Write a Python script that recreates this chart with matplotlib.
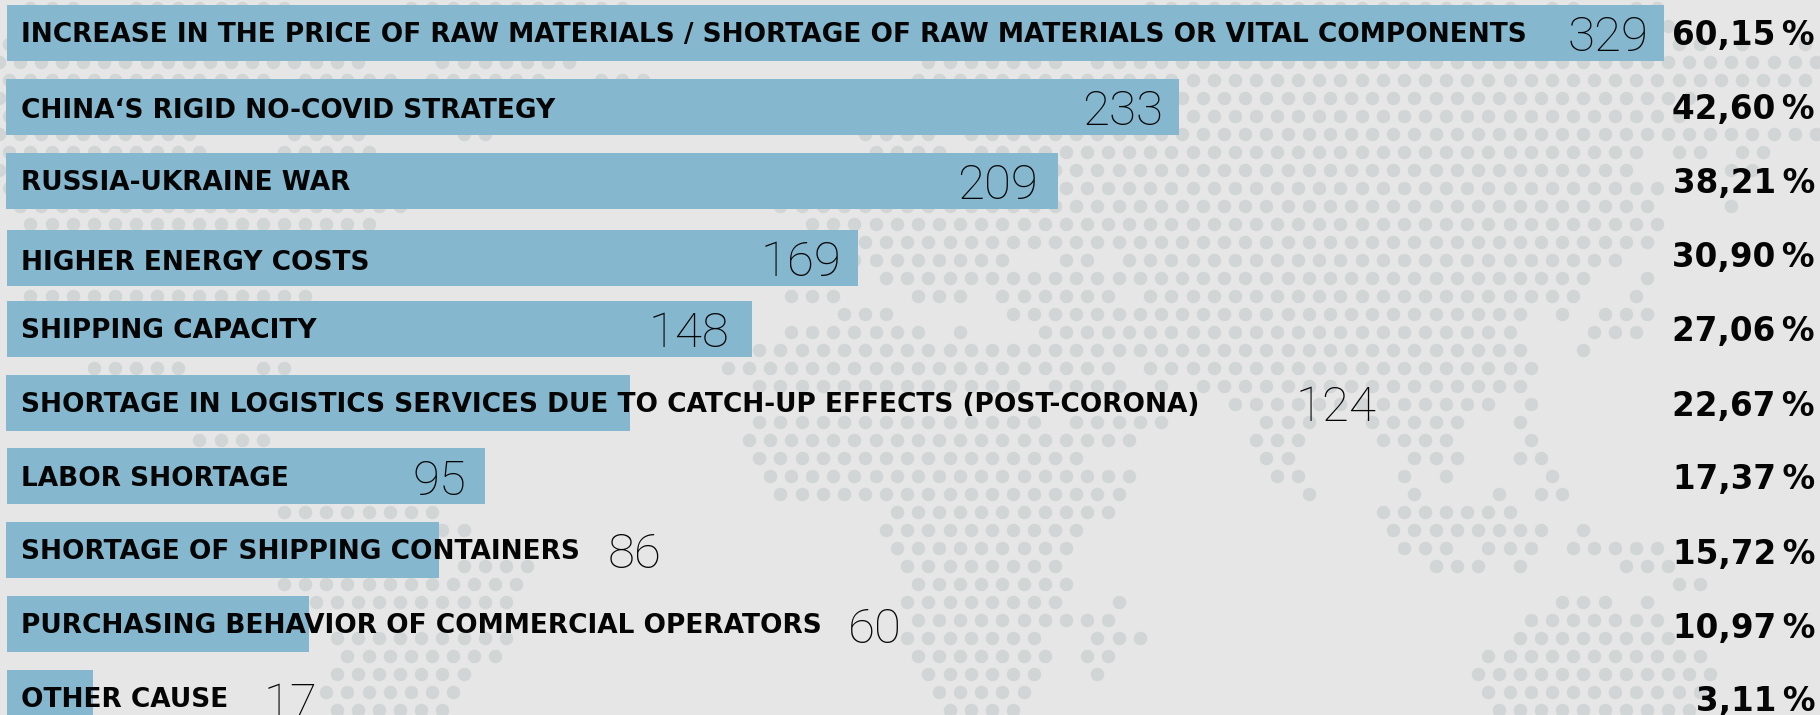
import numpy as np
import matplotlib
matplotlib.use("Agg")
import matplotlib.pyplot as plt

# ---- data ----
causes = ["INCREASE IN THE PRICE OF RAW MATERIALS / SHORTAGE OF RAW MATERIALS OR VITAL COMPONENTS",
          "CHINA‘S RIGID NO-COVID STRATEGY",
          "RUSSIA-UKRAINE WAR",
          "HIGHER ENERGY COSTS",
          "SHIPPING CAPACITY",
          "SHORTAGE IN LOGISTICS SERVICES DUE TO CATCH-UP EFFECTS (POST-CORONA)",
          "LABOR SHORTAGE",
          "SHORTAGE OF SHIPPING CONTAINERS",
          "PURCHASING BEHAVIOR OF COMMERCIAL OPERATORS",
          "OTHER CAUSE"]
counts = [329, 233, 209, 169, 148, 124, 95, 86, 60, 17]
shares = ["60,15", "42,60", "38,21", "30,90", "27,06", "22,67", "17,37", "15,72", "10,97", "3,11"]

# ---- layout (figure pixels) ----
W, H = 1820, 715
PX_PER_COUNT = 5.035
bar_left = [7, 6, 6, 7, 7, 6, 7, 6, 7, 7]
bar_top = [5, 79, 153, 230, 301, 375, 448, 522, 596, 670]
BAR_H = 56
label_y = [32, 108, 180, 260, 328, 402, 476, 549, 623, 697]
count_y = [33, 107, 181, 258, 329, 403, 477, 550, 625, 700]
share_y = [32, 106, 180, 254, 328, 403, 476, 551, 625, 698]
count_right = [1649, 1163, 1038, 841, 729, 1376, 466, 661, 902, 317]

# background dot map: per row, runs of (first x, last x), snapped to a staggered grid
dot_runs = [
    [(30, 72), (135, 282), (408, 619), (1152, 1510), (1552, 1573), (1635, 1657)],
    [(1667, 1667)],
    [(9, 9), (1677, 1698), (1739, 1739), (1815, 1815)],
    [(-1, 356), (440, 566), (931, 1057), (1100, 1815)],
    [(9, 261), (303, 388), (430, 535), (598, 639), (921, 1815)],
    [(-1, -1), (1179, 1688)],
    [(9, 9), (1179, 1677)],
    [(-1, 188), (293, 356), (461, 482), (868, 931), (973, 1815)],
    [(9, 198), (283, 367), (879, 942), (984, 1636), (1678, 1699), (1741, 1762)],
    [(-1, -1), (1057, 1625), (1731, 1752)],
    [(9, 9), (1068, 1657)],
    [(20, 398), (784, 1646), (1731, 1731)],
    [(30, 367), (816, 1657)],
    [(868, 1646)],
    [(858, 1005), (1068, 1089), (1131, 1615)],
    [(889, 1583), (1646, 1646)],
    [(30, 304), (795, 837), (921, 963), (1005, 1110), (1152, 1573), (1636, 1636)],
    [(847, 889), (1015, 1520), (1562, 1562), (1604, 1646)],
    [(795, 921), (963, 963), (1047, 1510), (1594, 1636)],
    [(763, 1520), (1583, 1583)],
    [(93, 177), (261, 282), (731, 1110), (1152, 1530)],
    [(763, 1015), (1057, 1120), (1162, 1162), (1204, 1520)],
    [(1236, 1488), (1530, 1530)],
    [(763, 1036), (1078, 1162), (1268, 1310), (1373, 1457), (1520, 1520)],
    [(198, 261), (753, 1131), (1257, 1299), (1383, 1447), (1530, 1530)],
    [(763, 1079), (1268, 1289), (1415, 1457), (1520, 1541)],
    [(774, 1131), (1278, 1299), (1405, 1405), (1447, 1447), (1552, 1552)],
    [(784, 1120), (1310, 1310), (1415, 1415), (1499, 1499), (1541, 1562)],
    [(283, 430), (900, 1110), (1383, 1510)],
    [(440, 461), (889, 1079), (1394, 1541), (1583, 1583)],
    [(900, 1068), (1405, 1447), (1489, 1530), (1573, 1657)],
    [(461, 524), (910, 1057), (1436, 1478), (1520, 1520), (1625, 1667)],
    [(283, 514), (921, 1068), (1678, 1699)],
    [(315, 503), (910, 1057), (1120, 1120), (1562, 1604), (1646, 1646)],
    [(921, 1110), (1530, 1657)],
    [(335, 503), (910, 1036), (1099, 1141), (1520, 1667)],
    [(346, 493), (921, 1047), (1089, 1110), (1489, 1699)],
    [(335, 461), (931, 1036), (1099, 1099), (1478, 1710)],
    [(325, 451), (942, 1026), (1489, 1699)],
    [(335, 440), (952, 1015), (1499, 1689)],
]

# ---- style ----
BG = "#E6E6E6"
DOT = "#D1D5D6"
BAR = "#85B7CF"
INK = "#050505"
LABEL_FONT = "DejaVu Sans"
NUM_FONT = "Roboto"

fig = plt.figure(figsize=(W / 100, H / 100), dpi=100, facecolor=BG)
ax = fig.add_axes([0, 0, 1, 1])
ax.set_xlim(0, W)
ax.set_ylim(H, 0)
ax.axis("off")

# dots
P, Y0, DY = 21.13, 8, 18
xs, ys = [], []
for k, runs in enumerate(dot_runs):
    off = 9.3 if k % 2 == 0 else 19.8
    for a, b in runs:
        n0, n1 = round((a - off) / P), round((b - off) / P)
        for n in range(n0, n1 + 1):
            xs.append(off + n * P)
            ys.append(Y0 + k * DY)
ax.scatter(xs, ys, s=(13.5 * 0.72) ** 2, color=DOT, linewidths=0, zorder=1)

# bars
ax.barh([t + BAR_H / 2 for t in bar_top], [c * PX_PER_COUNT for c in counts],
        left=bar_left, height=BAR_H, color=BAR, linewidth=0, zorder=2)

for i, name in enumerate(causes):
    ax.text(21, label_y[i], name, family=LABEL_FONT, weight="bold", fontsize=19.0,
            color=INK, ha="left", va="center_baseline", zorder=3)
    ax.text(count_right[i], count_y[i], str(counts[i]), family=NUM_FONT, weight=100,
            fontsize=35.5, color=INK, ha="right", va="center_baseline", zorder=3)
    ax.text(1815, share_y[i], shares[i] + "\u2009%", family=LABEL_FONT, weight="bold",
            fontsize=23.5, color=INK, ha="right", va="center_baseline", zorder=3)

fig.savefig("out.png", dpi=100, facecolor=BG)
